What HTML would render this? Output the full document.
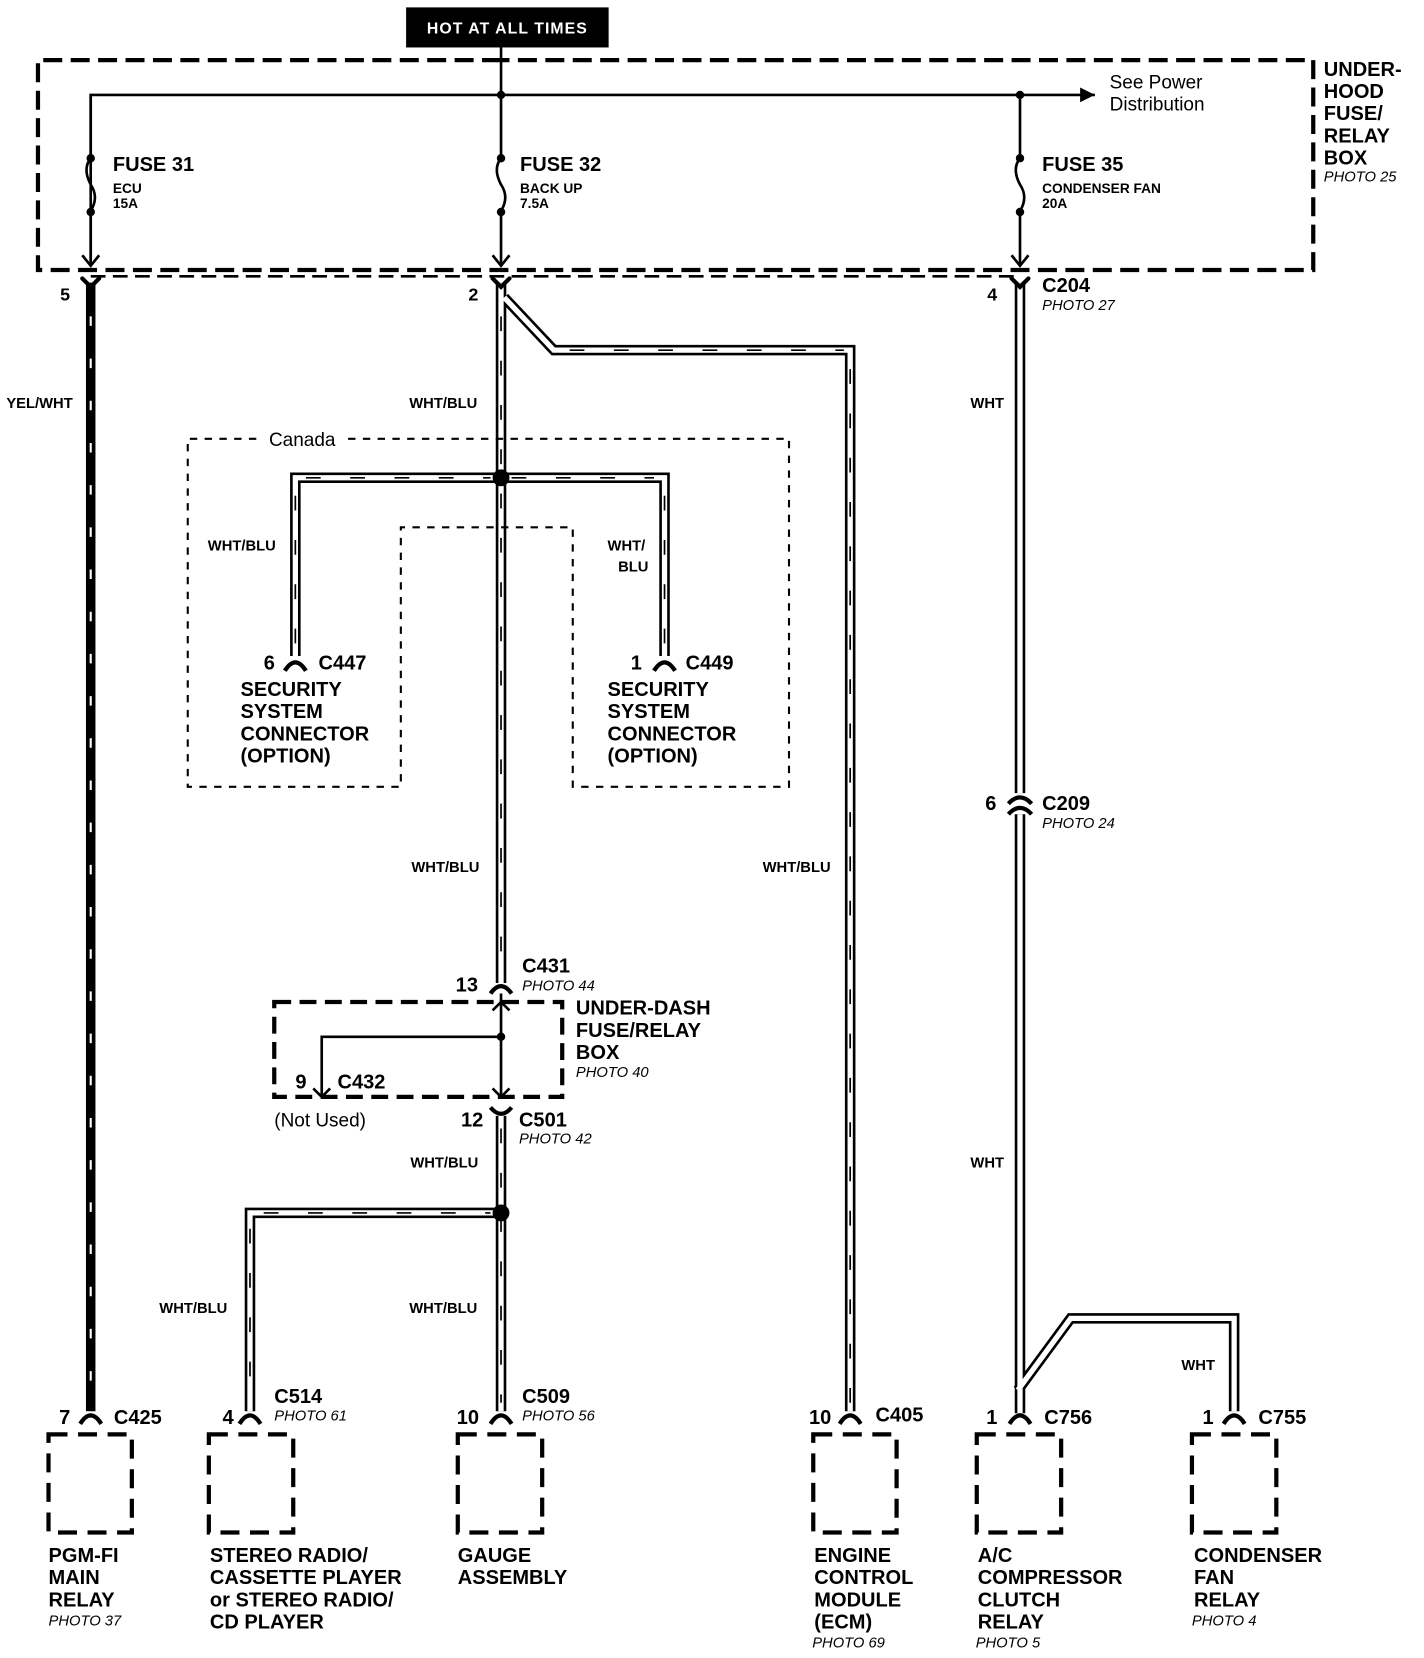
<!DOCTYPE html>
<html><head><meta charset="utf-8"><style>
html,body{margin:0;padding:0;background:#fff}
svg{display:block}
text{font-family:"Liberation Sans",Arial,sans-serif;fill:#000}
.b{font-weight:bold}
.t{font-size:19px;font-weight:bold}
.s{font-size:13px;font-weight:bold}
.p{font-size:14px;font-style:italic}
.c{font-size:19px;font-weight:bold}
</style></head><body>
<svg width="1424" height="1658" viewBox="0 0 1350 1572" preserveAspectRatio="none" xmlns="http://www.w3.org/2000/svg">
<defs>
<marker id="ar" viewBox="0 0 10 10" refX="10" refY="5" markerWidth="14" markerHeight="14" orient="auto" markerUnits="userSpaceOnUse"><path d="M0,0 L10,5 L0,10 z" fill="#000"/></marker>
</defs>
<rect x="385" y="7" width="192" height="38" fill="#000"/>
<text x="481" y="32" text-anchor="middle" class="b" style="font-size:15px;fill:#fff;letter-spacing:1px">HOT AT ALL TIMES</text>
<path d="M475,57 H36 V256 H1245 V57 H475" fill="none" stroke="#000" stroke-width="4" stroke-dasharray="18 8"/>
<path d="M86,262 H967" fill="none" stroke="#000" stroke-width="2.5" stroke-dasharray="14 7"/>
<line x1="475" y1="45" x2="475" y2="90" stroke="#000" stroke-width="2.5"/>
<path d="M86,250 V90 H1038" fill="none" stroke="#000" stroke-width="2.5" marker-end="url(#ar)"/>
<circle cx="475" cy="90" r="4"/><circle cx="967" cy="90" r="4"/>
<text x="1052" y="84" style="font-size:18px">See Power</text>
<text x="1052" y="105" style="font-size:18px">Distribution</text>
<g stroke="#000" stroke-width="2.5" fill="none">
<path d="M86,90 V150 M86,200 V252 M475,90 V150 M475,200 V252 M967,90 V150 M967,200 V252"/>
<path d="M86,150 q-8,10 0,25 q8,12 0,25 M475,150 q-8,10 0,25 q8,12 0,25 M967,150 q-8,10 0,25 q8,12 0,25"/>
<path d="M78,242 L86,252 L94,242 M467,242 L475,252 L483,242 M959,242 L967,252 L975,242"/>
</g>
<g fill="#000"><circle cx="86" cy="150" r="4"/><circle cx="86" cy="201" r="4"/><circle cx="475" cy="150" r="4"/><circle cx="475" cy="201" r="4"/><circle cx="967" cy="150" r="4"/><circle cx="967" cy="201" r="4"/></g>
<text x="107" y="162" class="t">FUSE 31</text><text x="107" y="183" class="s">ECU</text><text x="107" y="197" class="s">15A</text>
<text x="493" y="162" class="t">FUSE 32</text><text x="493" y="183" class="s">BACK UP</text><text x="493" y="197" class="s">7.5A</text>
<text x="988" y="162" class="t">FUSE 35</text><text x="988" y="183" class="s">CONDENSER FAN</text><text x="988" y="197" class="s">20A</text>
<text x="1255" y="72" class="t">UNDER-</text><text x="1255" y="93" class="t">HOOD</text><text x="1255" y="114" class="t">FUSE/</text><text x="1255" y="135" class="t">RELAY</text><text x="1255" y="156" class="t">BOX</text><text x="1255" y="172" class="p">PHOTO 25</text>
<line x1="86" y1="268" x2="86" y2="1338" stroke="#000" stroke-width="9"/>
<line x1="86" y1="300" x2="86" y2="1330" stroke="#fff" stroke-width="2" stroke-dasharray="9 31"/>
<g fill="none" stroke="#000" stroke-width="10" stroke-linejoin="miter">
<path d="M475,268 V932"/>
<path d="M478,282 L525,332 H806 V1338"/>
<path d="M280,622 V453 H630 V622"/>
<path d="M475,1058 V1338"/>
<path d="M237,1338 V1150 H475"/>
<path d="M967,268 V752 M967,772 V1340 M965,1318 L1015,1250 H1170 V1338"/>
</g>
<g fill="none" stroke="#fff" stroke-width="5" stroke-linejoin="miter">
<path d="M475,268 V932"/>
<path d="M478,282 L525,332 H806 V1338"/>
<path d="M280,622 V453 H630 V622"/>
<path d="M475,1058 V1338"/>
<path d="M237,1338 V1150 H475"/>
<path d="M967,268 V752 M967,772 V1340 M965,1318 L1015,1250 H1170 V1338"/>
</g>
<g fill="none" stroke="#000" stroke-width="1.6">
<path d="M475,300 V930" stroke-dasharray="14 28"/>
<path d="M806,350 V1330" stroke-dasharray="14 28"/>
<path d="M540,332 H800" stroke-dasharray="14 28"/>
<path d="M280,470 V615" stroke-dasharray="14 28"/>
<path d="M630,470 V615" stroke-dasharray="14 28"/>
<path d="M290,453 H465 M485,453 H620" stroke-dasharray="14 28"/>
<path d="M475,1070 V1330" stroke-dasharray="14 28"/>
<path d="M237,1165 V1330" stroke-dasharray="14 28"/>
<path d="M250,1150 H465" stroke-dasharray="14 28"/>
</g>
<circle cx="475" cy="453" r="8"/>
<circle cx="475" cy="1150" r="8"/>
<!-- top Y connectors -->
<g stroke="#000" stroke-width="4" fill="none" stroke-linecap="round">
<path d="M78,264 L86,272 L94,264 M467,264 L475,272 L483,264 M959,264 L967,272 L975,264"/>
</g>
<text x="57" y="285" class="c" style="font-size:17px">5</text>
<text x="444" y="285" class="c" style="font-size:17px">2</text>
<text x="936" y="285" class="c" style="font-size:17px">4</text>
<text x="988" y="277" class="c">C204</text><text x="988" y="294" class="p">PHOTO 27</text>
<path d="M330,416 H748 V746 H543 V500 H380 V746 H178 V416 H250" fill="none" stroke="#000" stroke-width="2" stroke-dasharray="7 7"/>
<text x="255" y="423" style="font-size:18px">Canada</text>
<g stroke="#000" stroke-width="4" fill="none">
<path d="M270,636 Q280,620 290,636 M620,636 Q630,620 640,636"/>
</g>
<text x="250" y="635" class="c">6</text><text x="302" y="635" class="c">C447</text>
<text x="598" y="635" class="c">1</text><text x="650" y="635" class="c">C449</text>
<text x="228" y="660" class="t">SECURITY</text><text x="228" y="681" class="t">SYSTEM</text><text x="228" y="702" class="t">CONNECTOR</text><text x="228" y="723" class="t">(OPTION)</text>
<text x="576" y="660" class="t">SECURITY</text><text x="576" y="681" class="t">SYSTEM</text><text x="576" y="702" class="t">CONNECTOR</text><text x="576" y="723" class="t">(OPTION)</text>
<g style="font-size:14px;font-weight:bold">
<text x="6" y="387">YEL/WHT</text>
<text x="388" y="387">WHT/BLU</text>
<text x="920" y="387">WHT</text>
<text x="197" y="522">WHT/BLU</text>
<text x="576" y="522">WHT/</text><text x="586" y="542">BLU</text>
<text x="390" y="827">WHT/BLU</text>
<text x="723" y="827">WHT/BLU</text>
<text x="389" y="1107">WHT/BLU</text>
<text x="920" y="1107">WHT</text>
<text x="151" y="1245">WHT/BLU</text>
<text x="388" y="1245">WHT/BLU</text>
<text x="1120" y="1299">WHT</text>
</g>
<g stroke="#000" stroke-width="4" fill="none"><path d="M956,762 Q967,750 978,762 M956,772 Q967,760 978,772"/></g>
<text x="934" y="768" class="c">6</text><text x="988" y="768" class="c">C209</text><text x="988" y="785" class="p">PHOTO 24</text>
<g stroke="#000" stroke-width="4" fill="none"><path d="M465,942 Q475,928 485,942 M465,1050 Q475,1062 485,1050"/></g>
<text x="432" y="940" class="c">13</text><text x="495" y="922" class="c">C431</text><text x="495" y="939" class="p">PHOTO 44</text>
<path d="M260,950 H533 V1040 H260 Z" fill="none" stroke="#000" stroke-width="4" stroke-dasharray="16 8"/>
<g stroke="#000" stroke-width="2.5" fill="none">
<path d="M475,942 V1040 M305,1040 V983 H475"/>
<path d="M467,958 L475,950 L483,958 M467,1032 L475,1040 L483,1032 M297,1032 L305,1040 L313,1032"/>
</g>
<circle cx="475" cy="983" r="4"/>
<text x="280" y="1032" class="c">9</text><text x="320" y="1032" class="c">C432</text>
<text x="260" y="1068" style="font-size:18px">(Not Used)</text>
<text x="546" y="962" class="t">UNDER-DASH</text><text x="546" y="983" class="t">FUSE/RELAY</text><text x="546" y="1004" class="t">BOX</text><text x="546" y="1021" class="p">PHOTO 40</text>
<text x="437" y="1068" class="c">12</text><text x="492" y="1068" class="c">C501</text><text x="492" y="1084" class="p">PHOTO 42</text>
<g stroke="#000" stroke-width="4" fill="none">
<path d="M76,1350 Q86,1334 96,1350 M227,1350 Q237,1334 247,1350 M465,1350 Q475,1334 485,1350 M796,1350 Q806,1334 816,1350 M957,1350 Q967,1334 977,1350 M1160,1350 Q1170,1334 1180,1350"/>
</g>
<text x="56" y="1350" class="c">7</text><text x="108" y="1350" class="c">C425</text>
<text x="211" y="1350" class="c">4</text><text x="260" y="1330" class="c">C514</text><text x="260" y="1347" class="p">PHOTO 61</text>
<text x="433" y="1350" class="c">10</text><text x="495" y="1330" class="c">C509</text><text x="495" y="1347" class="p">PHOTO 56</text>
<text x="767" y="1350" class="c">10</text><text x="830" y="1348" class="c">C405</text>
<text x="935" y="1350" class="c">1</text><text x="990" y="1350" class="c">C756</text>
<text x="1140" y="1350" class="c">1</text><text x="1193" y="1350" class="c">C755</text>
<g fill="none" stroke="#000" stroke-width="4" stroke-dasharray="18 10">
<rect x="46" y="1360" width="79" height="93"/>
<rect x="198" y="1360" width="80" height="93"/>
<rect x="434" y="1360" width="80" height="93"/>
<rect x="771" y="1360" width="79" height="93"/>
<rect x="926" y="1360" width="80" height="93"/>
<rect x="1130" y="1360" width="80" height="93"/>
</g>
<text x="46" y="1481" class="t">PGM-FI</text><text x="46" y="1502" class="t">MAIN</text><text x="46" y="1523" class="t">RELAY</text><text x="46" y="1541" class="p">PHOTO 37</text>
<text x="199" y="1481" class="t">STEREO RADIO/</text><text x="199" y="1502" class="t">CASSETTE PLAYER</text><text x="199" y="1523" class="t">or STEREO RADIO/</text><text x="199" y="1544" class="t">CD PLAYER</text>
<text x="434" y="1481" class="t">GAUGE</text><text x="434" y="1502" class="t">ASSEMBLY</text>
<text x="772" y="1481" class="t">ENGINE</text><text x="772" y="1502" class="t">CONTROL</text><text x="772" y="1523" class="t">MODULE</text><text x="772" y="1544" class="t">(ECM)</text><text x="770" y="1562" class="p">PHOTO 69</text>
<text x="927" y="1481" class="t">A/C</text><text x="927" y="1502" class="t">COMPRESSOR</text><text x="927" y="1523" class="t">CLUTCH</text><text x="927" y="1544" class="t">RELAY</text><text x="925" y="1562" class="p">PHOTO 5</text>
<text x="1132" y="1481" class="t">CONDENSER</text><text x="1132" y="1502" class="t">FAN</text><text x="1132" y="1523" class="t">RELAY</text><text x="1130" y="1541" class="p">PHOTO 4</text>
</svg>
</body></html>
